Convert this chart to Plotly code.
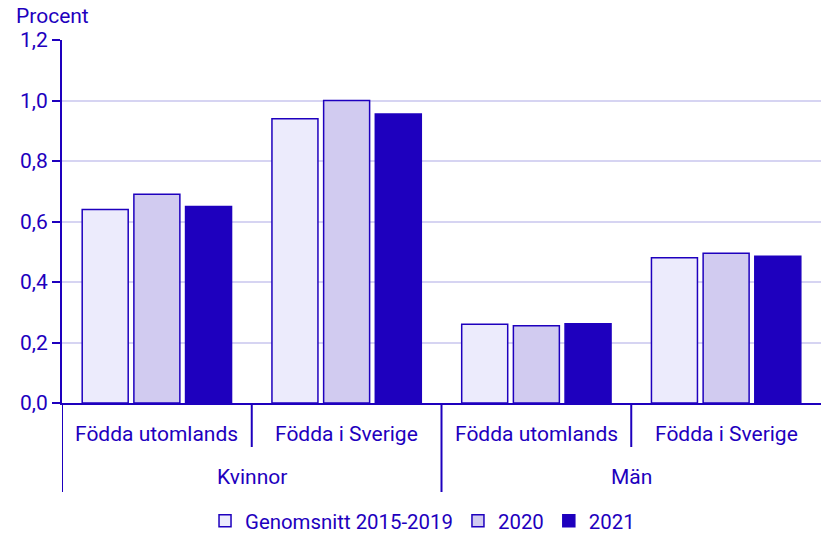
import plotly.graph_objects as go

outer = ["Kvinnor", "Män"]
inner = ["Födda utomlands", "Födda i Sverige", "Födda utomlands", "Födda i Sverige"]
series_names = ["Genomsnitt 2015-2019", "2020", "2021"]
avg_2015_2019 = [0.64, 0.94, 0.26, 0.48]
y2020 = [0.69, 1.00, 0.255, 0.495]
y2021 = [0.65, 0.955, 0.262, 0.485]
y_ticks = [0, 0.2, 0.4, 0.6, 0.8, 1.0, 1.2]

TXT = "#1E00BE"
fills = ["#ECEBFC", "#D1CBF0", "#1E00BE"]
font = dict(family="Roboto", size=21, color=TXT)
legend_font = dict(family="Roboto", size=20.4, color=TXT)

xpos = list(range(len(inner)))

fig = go.Figure()
for name, vals, col in zip(series_names, [avg_2015_2019, y2020, y2021], fills):
    fig.add_trace(go.Bar(
        x=xpos, y=vals, name=name,
        marker=dict(color=col, line=dict(color=TXT, width=1.5)),
    ))

fig.update_layout(
    width=821, height=533,
    margin=dict(l=62, r=0, t=40, b=130, autoexpand=False),
    plot_bgcolor="white", paper_bgcolor="white",
    font=font, separators=", ",
    barmode="group", bargap=0.183, bargroupgap=0.11,
    showlegend=True,
    legend=dict(orientation="h", x=0.475, xanchor="center", y=-0.325, yanchor="middle",
                font=legend_font, itemwidth=30, tracegroupgap=0),
    xaxis=dict(range=[-0.5, len(inner) - 0.5], showline=True, linecolor=TXT, linewidth=2,
               showticklabels=False, ticks="", showgrid=False, zeroline=False,
               fixedrange=True, automargin=False),
    yaxis=dict(range=[0, 1.2], tickvals=y_ticks, tickformat=".1f",
               showline=True, linecolor=TXT, linewidth=2,
               ticks="outside", ticklen=8, tickwidth=2, tickcolor=TXT,
               gridcolor="#D6D4F2", gridwidth=2, zeroline=False, tickfont=font,
               automargin=False, fixedrange=True),
)

# inner category labels
for i, lab in enumerate(inner):
    fig.add_annotation(text=lab, xref="x", yref="paper", x=xpos[i], y=0, yshift=-31,
                       yanchor="middle", showarrow=False, font=font)
# outer category labels
for j, lab in enumerate(outer):
    fig.add_annotation(text=lab, xref="x", yref="paper", x=2 * j + 0.5, y=0, yshift=-74,
                       yanchor="middle", showarrow=False, font=font)

plot_h = 533 - 40 - 130
# dividers
for b in [-0.5, 1.5]:
    fig.add_shape(type="line", xref="x", yref="paper", x0=b, x1=b, y0=0, y1=-89 / plot_h,
                  line=dict(color=TXT, width=2))
for b in [0.5, 2.5]:
    fig.add_shape(type="line", xref="x", yref="paper", x0=b, x1=b, y0=0, y1=-44 / plot_h,
                  line=dict(color=TXT, width=2))

fig.add_annotation(text="Procent", xref="paper", yref="paper", x=0, y=1,
                   xshift=-48, yshift=10, xanchor="left", yanchor="bottom",
                   showarrow=False, font=font)
fig.write_html("out.html", config={"displayModeBar": False},
               post_script="document.body.style.margin='0';")
